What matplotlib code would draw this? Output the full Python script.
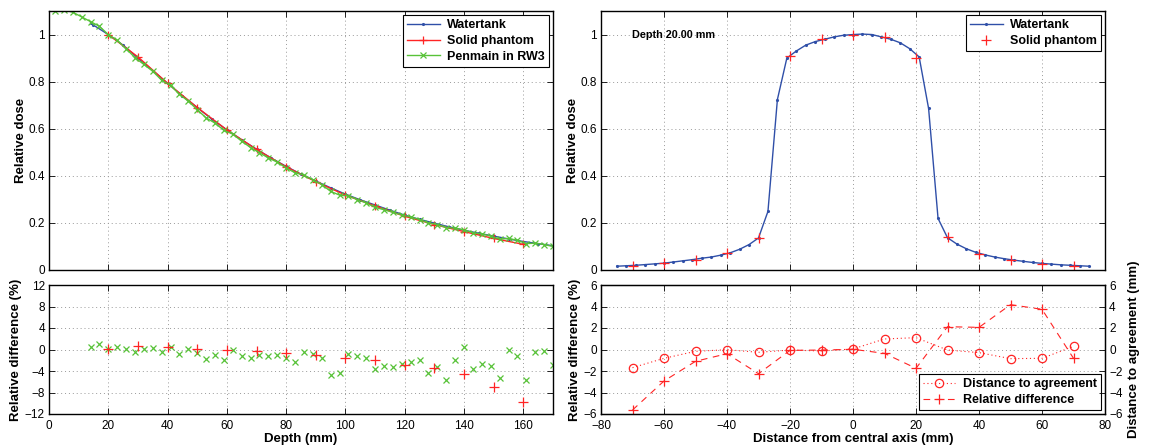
import matplotlib
matplotlib.use("Agg")
import matplotlib.pyplot as plt
import numpy as np

plt.rcParams["font.family"] = ["Liberation Sans", "DejaVu Sans"]
plt.rcParams["font.size"] = 8.5

BLUE = "#2f4fa8"
RED = "#ff2424"
GREEN = "#58c238"

# Depth dose curves
wt_depth = [14, 15, 20, 25, 30, 35, 40, 45, 50, 55, 60, 65, 70, 75, 80, 85, 90,
            95, 100, 105, 110, 115, 120, 125, 130, 135, 140, 145, 150, 155, 160,
            165, 170]
wt_dose = [1.05, 1.04, 1.0, 0.955, 0.9, 0.847, 0.793, 0.74, 0.69, 0.64, 0.595,
           0.553, 0.513, 0.475, 0.44, 0.407, 0.378, 0.349, 0.322, 0.298, 0.276,
           0.254, 0.233, 0.215, 0.199, 0.183, 0.169, 0.156, 0.144, 0.132, 0.121,
           0.112, 0.103]

solid_depth = [20, 30, 40, 50, 60, 70, 80, 90, 100, 110, 120, 130, 140, 150, 160]
solid_dose = [1.0, 0.905, 0.793, 0.69, 0.595, 0.512, 0.438, 0.375, 0.318, 0.272,
              0.228, 0.193, 0.163, 0.134, 0.109]

pen_depth = [2, 5, 8, 11, 14, 17, 20, 23, 26, 29, 32, 35, 38, 41, 44, 47, 50, 53,
             56, 59, 62, 65, 68, 71, 74, 77, 80, 83, 86, 89, 92, 95, 98, 101, 104,
             107, 110, 113, 116, 119, 122, 125, 128, 131, 134, 137, 140, 143, 146,
             149, 152, 155, 158, 161, 164, 167, 170]
pen_dose = [1.10, 1.105, 1.095, 1.075, 1.055, 1.035, 1.0, 0.975, 0.94, 0.902,
            0.873, 0.844, 0.806, 0.784, 0.746, 0.717, 0.681, 0.646, 0.624, 0.593,
            0.577, 0.547, 0.52, 0.498, 0.476, 0.458, 0.433, 0.413, 0.403, 0.383,
            0.363, 0.334, 0.318, 0.315, 0.299, 0.285, 0.266, 0.256, 0.245, 0.234,
            0.225, 0.214, 0.2, 0.193, 0.18, 0.178, 0.17, 0.158, 0.153, 0.144,
            0.131, 0.134, 0.126, 0.112, 0.114, 0.108, 0.1]

# Relative differences along depth (%)
pen_diff = [0.4, 1.0, 0.15, 0.4, 0.1, -0.5, 0.15, 0.2, -0.4, 0.4, -0.8, 0.1,
            -0.65, -1.8, -1.0, -2.0, -0.1, -1.3, -1.5, -1.0, -1.3, -1.0, -1.6,
            -2.3, -0.5, -0.85, -1.6, -4.8, -4.4, -0.8, -1.3, -1.6, -3.7, -3.1,
            -3.3, -2.7, -2.3, -2.0, -4.4, -3.3, -5.6, -2.0, 0.5, -3.6, -2.7, -3.1,
            -5.3, -0.1, -1.2, -5.6, -0.4, -0.2, -2.8]
pen_diff_depth = pen_depth[4:]
solid_diff = [0.1, 0.6, 0.4, 0.1, 0.0, -0.3, -0.6, -1.1, -1.5, -2.0, -2.8, -3.5,
              -4.6, -7.0, -9.8]

# Profile at depth 20 mm
prof_x = list(range(-75, 76, 3))
prof_dose = [0.016, 0.018, 0.02, 0.023, 0.026, 0.029, 0.034, 0.039, 0.044, 0.05,
             0.055, 0.063, 0.073, 0.088, 0.108, 0.136, 0.249, 0.724, 0.9, 0.93,
             0.955, 0.97, 0.98, 0.99, 0.997, 1.0, 1.002, 1.0, 0.99, 0.98, 0.965,
             0.94, 0.905, 0.686, 0.219, 0.137, 0.11, 0.09, 0.075, 0.064, 0.055,
             0.048, 0.042, 0.037, 0.032, 0.028, 0.025, 0.022, 0.02, 0.018, 0.016]
solid_x = list(range(-70, 71, 10))
solid_prof = [0.017, 0.028, 0.041, 0.071, 0.138, 0.908, 0.982, 1.0, 0.988, 0.9,
              0.14, 0.068, 0.041, 0.027, 0.017]
dta = [-1.69, -0.82, -0.17, -0.02, -0.26, -0.05, -0.14, 0.05, 0.98, 1.1, -0.05,
       -0.29, -0.85, -0.82, 0.29]
prof_diff = [-5.63, -2.93, -1.1, -0.39, -2.25, -0.08, -0.05, 0.02, -0.36, -1.75,
             2.12, 2.06, 4.17, 3.74, -0.82]

fig = plt.figure(figsize=(11.49, 4.46), dpi=100)
W, H = 1149, 446


def make_ax(x0, x1, y0, y1):
    return fig.add_axes([x0 / W, 1 - y1 / H, (x1 - x0) / W, (y1 - y0) / H])


def style(ax):
    ax.tick_params(direction="in", top=True, right=True, length=4, width=0.6,
                   labelsize=8.5, pad=3)
    ax.tick_params(axis="x", pad=4)
    ax.grid(True, linestyle=(0, (1, 3)), color="#999999", linewidth=0.7)
    for s in ax.spines.values():
        s.set_linewidth(1.0)


def add_legend(ax, loc):
    leg = ax.legend(loc=loc, prop={"weight": "bold", "size": 9},
                    fancybox=False, edgecolor="black", framealpha=1,
                    borderaxespad=0.3, handlelength=2.6, borderpad=0.35,
                    labelspacing=0.3, handletextpad=0.6)
    leg.get_frame().set_linewidth(0.8)


ax1 = make_ax(49, 553, 11, 270)
ax2 = make_ax(49, 553, 285, 414)
ax3 = make_ax(601, 1105, 11, 270)
ax4 = make_ax(601, 1105, 285, 414)

# Top left: depth dose
ax1.plot(wt_depth, wt_dose, "-", marker=".", ms=2.5, color=BLUE, lw=1.0,
         label="Watertank")
ax1.plot(solid_depth, solid_dose, "-", marker="+", ms=6, mew=0.9, color=RED,
         lw=1.0, label="Solid phantom")
ax1.plot(pen_depth, pen_dose, "-", marker="x", ms=4.5, mew=0.9, color=GREEN,
         lw=1.0, label="Penmain in RW3")
ax1.set_xlim(0, 170)
ax1.set_ylim(0, 1.1)
ax1.set_xticks(np.arange(0, 161, 20))
ax1.set_xticklabels([])
ax1.set_yticks([0, 0.2, 0.4, 0.6, 0.8, 1])
ax1.set_yticklabels(["0", "0.2", "0.4", "0.6", "0.8", "1"])
ax1.set_ylabel("Relative dose", fontweight="bold", fontsize=9.5, labelpad=1)
style(ax1)
add_legend(ax1, "upper right")

# Bottom left: relative difference
ax2.plot(pen_diff_depth, pen_diff, "x", ms=4.5, mew=0.9, color=GREEN)
ax2.plot(solid_depth, solid_diff, "+", ms=7, mew=0.9, color=RED)
ax2.set_xlim(0, 170)
ax2.set_ylim(-12, 12)
ax2.set_xticks(np.arange(0, 161, 20))
ax2.set_yticks(np.arange(-12, 13, 4))
ax2.set_xlabel("Depth (mm)", fontweight="bold", fontsize=9.5, labelpad=1)
ax2.set_ylabel("Relative difference (%)", fontweight="bold", fontsize=9.5,
               labelpad=2)
style(ax2)

# Top right: profile
ax3.plot(prof_x, prof_dose, "-", marker=".", ms=2.5, color=BLUE, lw=1.0,
         label="Watertank")
ax3.plot(solid_x, solid_prof, "+", ms=7, mew=0.9, color=RED,
         label="Solid phantom")
ax3.text(-70, 1.0, "Depth 20.00 mm", fontweight="bold", fontsize=7.8,
         va="center", ha="left")
ax3.set_xlim(-80, 80)
ax3.set_ylim(0, 1.1)
ax3.set_xticks(np.arange(-80, 81, 20))
ax3.set_xticklabels([])
ax3.set_yticks([0, 0.2, 0.4, 0.6, 0.8, 1])
ax3.set_yticklabels(["0", "0.2", "0.4", "0.6", "0.8", "1"])
ax3.set_ylabel("Relative dose", fontweight="bold", fontsize=9.5, labelpad=1)
style(ax3)
add_legend(ax3, "upper right")

# Bottom right: DTA and relative difference
ax4.plot(solid_x, dta, linestyle=(0, (1, 2.5)), marker="o", ms=6, mfc="none",
         mew=0.9, color=RED, lw=0.8, label="Distance to agreement")
ax4.plot(solid_x, prof_diff, linestyle=(0, (6, 5)), marker="+", ms=7, mew=0.9,
         color=RED, lw=0.8, label="Relative difference")
ax4.set_xlim(-80, 80)
ax4.set_ylim(-6, 6)
ax4.set_xticks(np.arange(-80, 81, 20))
ax4.set_yticks(np.arange(-6, 7, 2))
ax4.set_xlabel("Distance from central axis (mm)", fontweight="bold",
               fontsize=9.5, labelpad=1)
ax4.set_ylabel("Relative difference (%)", fontweight="bold", fontsize=9.5,
               labelpad=2)
style(ax4)
ax4.tick_params(right=False)
tw = ax4.twinx()
tw.set_ylim(-6, 6)
tw.set_yticks(np.arange(-6, 7, 2))
tw.tick_params(direction="in", length=4, width=0.6, labelsize=8.5, pad=3)
tw.set_ylabel("Distance to agreement (mm)", fontweight="bold", fontsize=9.5,
              labelpad=4)
add_legend(ax4, "lower right")

fig.savefig("out.png", dpi=100)
